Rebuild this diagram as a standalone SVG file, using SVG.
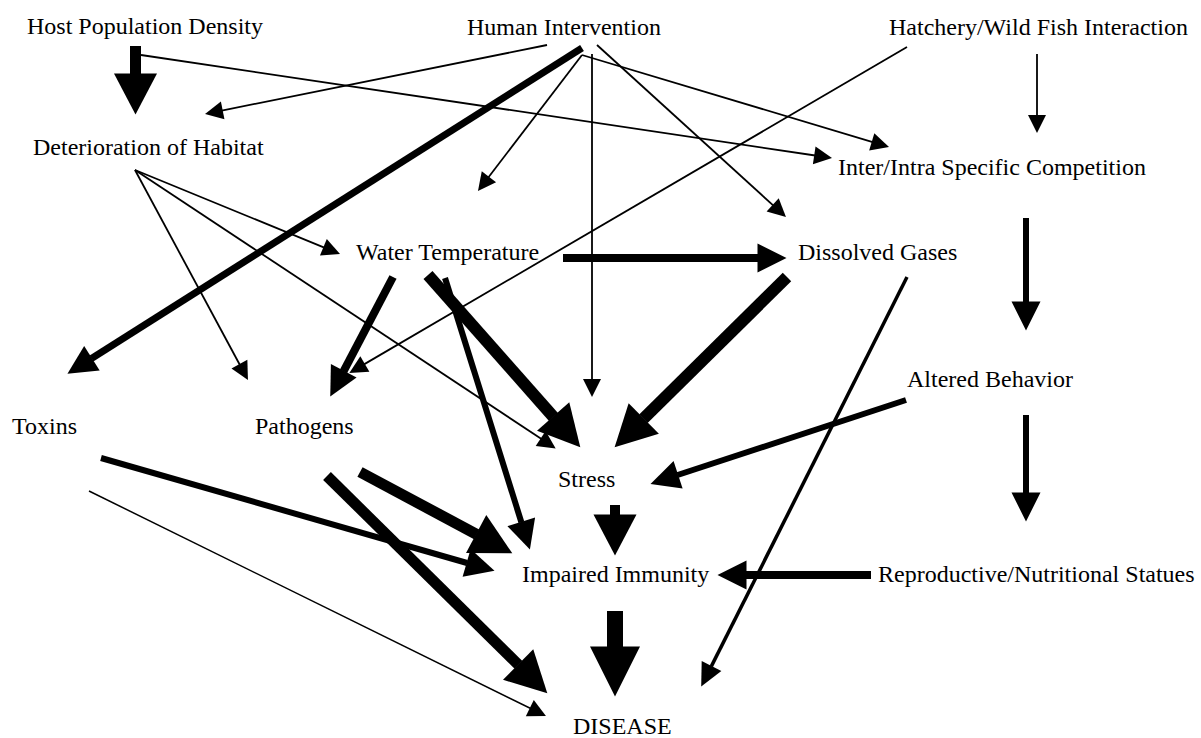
<svg xmlns="http://www.w3.org/2000/svg" width="1201" height="738" viewBox="0 0 1201 738">
<style>
text{font-family:"Liberation Serif","Times New Roman",serif;font-size:24px;fill:#000}
.c{stroke:#000;fill:none;stroke-linecap:butt}
.t{stroke-width:1.8;marker-end:url(#ahs)}
.m{stroke-width:6;marker-end:url(#ahm)}
.k{stroke-width:11;marker-end:url(#ahl)}
</style>
<defs>
<marker id="ahs" markerUnits="userSpaceOnUse" markerWidth="20" markerHeight="20" viewBox="0 -10 19 20" refX="1" refY="0" orient="auto" overflow="visible"><path d="M0,-9 L18,0 L0,9 z" fill="#000"/></marker>
<marker id="aht" markerUnits="userSpaceOnUse" markerWidth="26" markerHeight="24" viewBox="0 -12 25 24" refX="0.5" refY="0" orient="auto" overflow="visible"><path d="M0,-11 L23,0 L0,11 z" fill="#000"/></marker>
<marker id="ahm" markerUnits="userSpaceOnUse" markerWidth="31" markerHeight="32" viewBox="0 -16 30 32" refX="0.5" refY="0" orient="auto" overflow="visible"><path d="M0,-14.5 L29,0 L0,14.5 z" fill="#000"/></marker>
<marker id="ahl" markerUnits="userSpaceOnUse" markerWidth="42" markerHeight="46" viewBox="0 -22 41 44" refX="0.5" refY="0" orient="auto" overflow="visible"><path d="M0,-21 L40,0 L0,21 z" fill="#000"/></marker>
<marker id="ahx" markerUnits="userSpaceOnUse" markerWidth="52" markerHeight="52" viewBox="0 -26 51 52" refX="0.5" refY="0" orient="auto" overflow="visible"><path d="M0,-25 L50,0 L0,25 z" fill="#000"/></marker>
</defs>
<g id="connectors">
<line id="host-det" class="c" x1="135.5" y1="46" x2="135.5" y2="74" stroke-width="11" marker-end="url(#ahl)"/>
<line id="host-inter" class="c t" x1="141" y1="55" x2="815.2" y2="155.5"/>
<line id="hum-det" class="c t" x1="547" y1="45" x2="221.7" y2="110.6"/>
<line id="hum-tox" class="c" x1="582" y1="48" x2="91.5" y2="358.5" stroke-width="7" marker-end="url(#ahm)"/>
<line id="hum-mid" class="c t" x1="582" y1="55" x2="488.3" y2="177.5"/>
<line id="hum-stress" class="c t" x1="592" y1="54" x2="592" y2="380"/>
<line id="hum-gas" class="c t" x1="597" y1="45" x2="773.4" y2="205.6"/>
<line id="hum-inter" class="c t" x1="582" y1="55" x2="872.7" y2="142.1"/>
<line id="hatch-path" class="c t" x1="907" y1="47" x2="364" y2="364.4"/>
<line id="det-stress" class="c t" x1="135" y1="170" x2="541.5" y2="439"/>
<line id="det-water" class="c t" x1="135" y1="170" x2="324.3" y2="247.6"/>
<line id="det-path" class="c t" x1="135" y1="170" x2="239.9" y2="365"/>
<line id="water-gas" class="c" x1="563" y1="258" x2="758" y2="258" stroke-width="8" marker-end="url(#ahm)"/>
<line id="water-path" class="c" x1="393" y1="277" x2="343.5" y2="371.3" stroke-width="8" marker-end="url(#ahm)"/>
<line id="water-stress" class="c" x1="428" y1="275" x2="553.5" y2="417" stroke-width="12" marker-end="url(#ahl)"/>
<line id="water-imm" class="c m" x1="445" y1="278" x2="521.4" y2="522.3"/>
<line id="gas-stress" class="c" x1="787" y1="277" x2="643.4" y2="418.8" stroke-width="12" marker-end="url(#ahl)"/>
<line id="gas-disease" class="c" x1="907" y1="277" x2="711.3" y2="666.4" stroke-width="3.5" marker-end="url(#aht)"/>
<line id="inter-alt" class="c m" x1="1026" y1="218" x2="1026" y2="302"/>
<line id="hatch-inter" class="c t" x1="1037" y1="54" x2="1037" y2="116"/>
<line id="alt-stress" class="c m" x1="906" y1="400" x2="677.6" y2="475"/>
<line id="alt-repro" class="c m" x1="1026" y1="415" x2="1026" y2="493"/>
<line id="stress-imm" class="c" x1="615" y1="505" x2="615" y2="515" stroke-width="10" marker-end="url(#ahl)"/>
<line id="repro-imm" class="c" x1="871" y1="575" x2="746" y2="575" stroke-width="8" marker-end="url(#ahm)"/>
<line id="imm-disease" class="c" x1="615" y1="611" x2="615" y2="647" stroke-width="16" marker-end="url(#ahx)"/>
<line id="tox-imm" class="c m" x1="101" y1="458" x2="467.1" y2="563"/>
<line id="tox-disease" class="c" x1="89" y1="491" x2="530.7" y2="708.5" stroke-width="1.5" marker-end="url(#ahs)"/>
<line id="path-imm" class="c k" x1="360" y1="472" x2="476.6" y2="534.3"/>
<line id="path-disease" class="c k" x1="327" y1="476" x2="518.5" y2="664.9"/>
</g>
<g id="host"><text x="27" y="34">Host Population Density</text></g>
<g id="human"><text x="467" y="35">Human Intervention</text></g>
<g id="hatchery"><text x="889" y="35">Hatchery/Wild Fish Interaction</text></g>
<g id="deterioration"><text x="33" y="155">Deterioration of Habitat</text></g>
<g id="competition"><text x="838" y="175">Inter/Intra Specific Competition</text></g>
<g id="water"><text x="356" y="260">Water Temperature</text></g>
<g id="gases"><text x="798" y="260">Dissolved Gases</text></g>
<g id="behavior"><text x="907" y="387">Altered Behavior</text></g>
<g id="toxins"><text x="12" y="434">Toxins</text></g>
<g id="pathogens"><text x="255" y="434">Pathogens</text></g>
<g id="stress"><text x="558" y="487">Stress</text></g>
<g id="immunity"><text x="522" y="582">Impaired Immunity</text></g>
<g id="repro"><text x="878" y="582">Reproductive/Nutritional Statues</text></g>
<g id="disease"><text x="573" y="734">DISEASE</text></g>
</svg>
